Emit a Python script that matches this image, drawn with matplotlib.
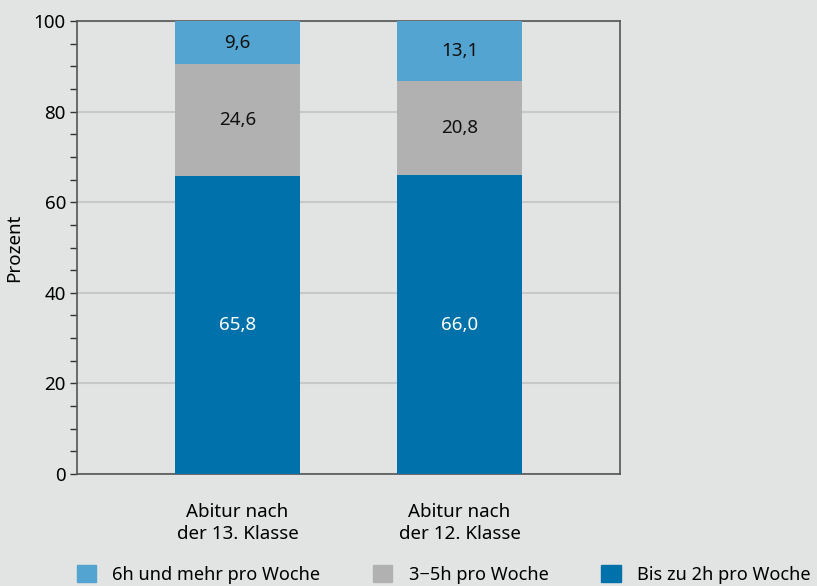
import numpy as np
import matplotlib
matplotlib.use('Agg')
import matplotlib.pyplot as plt
from matplotlib.patches import Patch
from matplotlib.ticker import MultipleLocator

# data
groups = ['Abitur nach\nder 13. Klasse', 'Abitur nach\nder 12. Klasse']
low = [65.8, 66.0]     # Bis zu 2h pro Woche
mid = [24.6, 20.8]     # 3-5h pro Woche
high = [9.6, 13.1]     # 6h und mehr pro Woche
legend_labels = ['6h und mehr pro Woche', '3\u22125h pro Woche', 'Bis zu 2h pro Woche']

c_high = '#53a4d1'
c_mid = '#b1b1b2'
c_low = '#0071aa'
bg = '#e2e3e3'

plt.rcParams['font.family'] = ['Noto Sans', 'DejaVu Sans']
plt.rcParams['font.size'] = 13.5

fig = plt.figure(figsize=(8.17, 5.86), dpi=100, facecolor=bg)
ax = fig.add_axes([77/817, 112/586, 543/817, 453/586], facecolor=bg)

x = np.arange(len(groups))
w = 0.563
low = np.array(low); mid = np.array(mid); high = np.array(high)
ax.bar(x, low, w, color=c_low, zorder=3)
ax.bar(x, mid, w, bottom=low, color=c_mid, zorder=3)
ax.bar(x, high, w, bottom=low + mid, color=c_high, zorder=3)

def fmt(v):
    return ('%.1f' % v).replace('.', ',')

for i in range(len(groups)):
    ax.text(x[i], low[i] / 2, fmt(low[i]), ha='center', va='center', color='white', zorder=4)
    ax.text(x[i], low[i] + mid[i] / 2, fmt(mid[i]), ha='center', va='center', color='#111111', zorder=4)
    ax.text(x[i], low[i] + mid[i] + high[i] / 2, fmt(high[i]), ha='center', va='center', color='#111111', zorder=4)

ax.set_xlim(-0.723, 1.723)
ax.set_ylim(0, 100)
ax.yaxis.set_major_locator(MultipleLocator(20))
ax.yaxis.set_minor_locator(MultipleLocator(5))
ax.grid(axis='y', which='major', color='#c8c8c8', linewidth=1.5, zorder=1)
ax.set_xticks(x)
ax.set_xticklabels(groups, linespacing=1.3)
ax.tick_params(axis='x', length=0, pad=21)
ax.tick_params(axis='y', which='both', length=5, width=1, color='#333333', pad=3)
for s in ax.spines.values():
    s.set_color('#555555')
    s.set_linewidth(1.2)
ax.set_ylabel('Prozent', labelpad=8)

handles = [Patch(color=c_high), Patch(color=c_mid), Patch(color=c_low)]
fig.legend(handles, legend_labels, loc='center left', bbox_to_anchor=(77/817, 11.5/586),
           ncol=3, frameon=False, fontsize=13.1, handlelength=1.05, handleheight=1.05,
           handletextpad=0.9, columnspacing=2.9, borderaxespad=0, borderpad=0)

fig.savefig('out.png', dpi=100, facecolor=bg)
